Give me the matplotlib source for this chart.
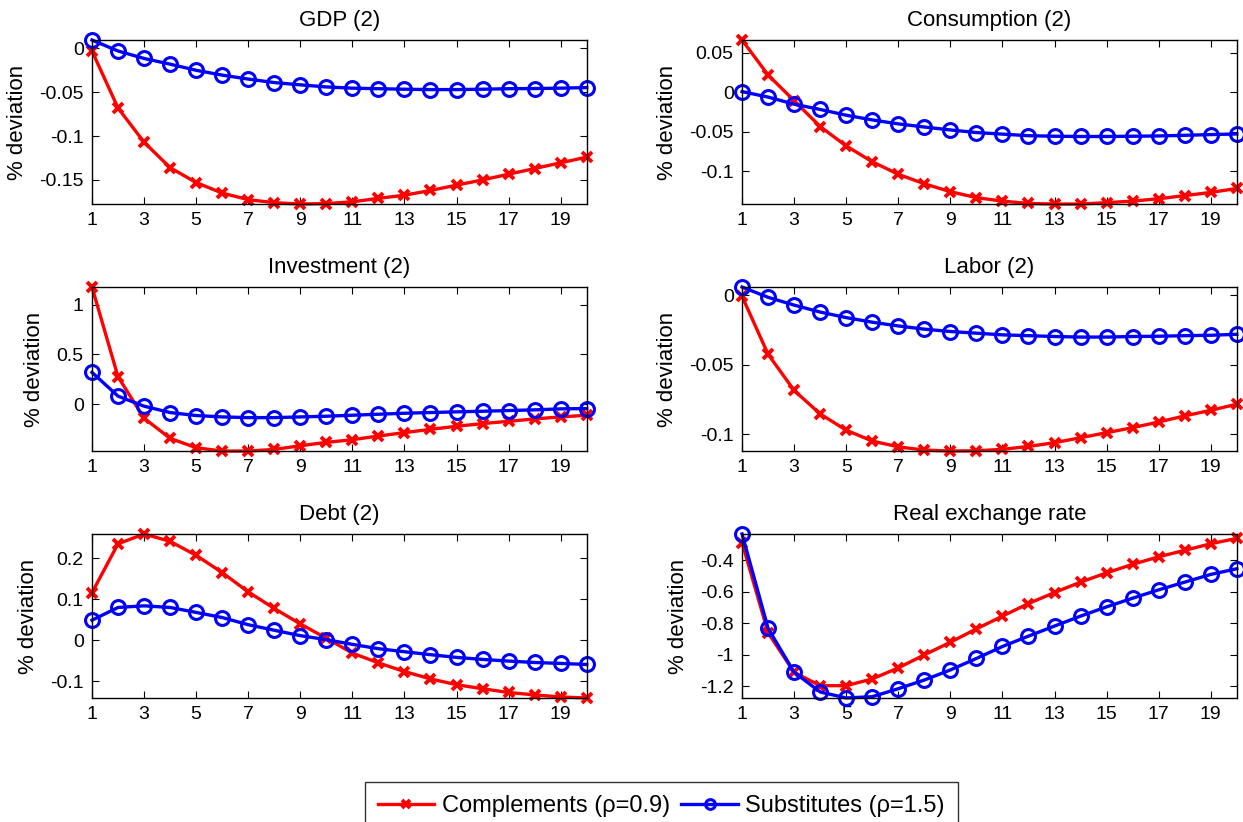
import matplotlib
matplotlib.use('Agg')
import matplotlib.pyplot as plt
from matplotlib.ticker import MultipleLocator, FuncFormatter

plt.rcParams['font.family'] = ['Liberation Sans', 'DejaVu Sans']

periods = list(range(1, 21))

# impulse responses, complements (rho=0.9) and substitutes (rho=1.5)
gdp_comp = [-0.003, -0.068, -0.107, -0.136, -0.153, -0.165, -0.1725, -0.176, -0.1775, -0.177,
            -0.175, -0.171, -0.1675, -0.162, -0.156, -0.150, -0.1435, -0.137, -0.1305, -0.124]
gdp_subs = [0.0095, -0.003, -0.0115, -0.018, -0.025, -0.0305, -0.035, -0.039, -0.0416, -0.044,
            -0.0454, -0.046, -0.0466, -0.047, -0.047, -0.0466, -0.046, -0.0458, -0.0454, -0.0447]

cons_comp = [0.0664, 0.022, -0.0106, -0.0434, -0.068, -0.088, -0.104, -0.116, -0.126, -0.1336,
             -0.138, -0.141, -0.1417, -0.1417, -0.140, -0.138, -0.135, -0.131, -0.127, -0.122]
cons_subs = [0.001, -0.006, -0.015, -0.0217, -0.029, -0.035, -0.040, -0.044, -0.0477, -0.051,
             -0.053, -0.055, -0.0557, -0.056, -0.056, -0.0557, -0.0553, -0.0545, -0.0536, -0.0528]

inv_comp = [1.178, 0.276, -0.141, -0.343, -0.438, -0.471, -0.471, -0.455, -0.418, -0.384,
            -0.357, -0.320, -0.286, -0.253, -0.222, -0.195, -0.172, -0.148, -0.128, -0.111]
inv_subs = [0.32, 0.081, -0.02, -0.084, -0.114, -0.128, -0.135, -0.135, -0.128, -0.121,
            -0.111, -0.101, -0.091, -0.084, -0.077, -0.071, -0.064, -0.057, -0.047, -0.044]

lab_comp = [-0.0007, -0.0424, -0.0684, -0.0853, -0.097, -0.1048, -0.109, -0.1113, -0.112, -0.1118,
            -0.1108, -0.1087, -0.106, -0.1024, -0.0988, -0.0952, -0.0911, -0.0867, -0.0827, -0.0783]
lab_subs = [0.006, -0.0014, -0.007, -0.012, -0.016, -0.0193, -0.022, -0.0243, -0.026, -0.0272,
            -0.0284, -0.029, -0.0296, -0.030, -0.030, -0.0296, -0.0294, -0.029, -0.0287, -0.028]

debt_comp = [0.116, 0.235, 0.259, 0.241, 0.207, 0.165, 0.118, 0.0776, 0.040, 0.005,
             -0.031, -0.055, -0.076, -0.094, -0.108, -0.118, -0.127, -0.133, -0.138, -0.1404]
debt_subs = [0.049, 0.080, 0.084, 0.080, 0.068, 0.0555, 0.038, 0.0245, 0.0114, 0.0016,
             -0.0098, -0.0204, -0.0278, -0.035, -0.0416, -0.0465, -0.0506, -0.054, -0.0563, -0.0588]

rer_comp = [-0.287, -0.860, -1.111, -1.196, -1.196, -1.153, -1.083, -1.0, -0.920, -0.835,
            -0.754, -0.674, -0.604, -0.538, -0.479, -0.425, -0.377, -0.336, -0.294, -0.260]
rer_subs = [-0.232, -0.832, -1.111, -1.236, -1.274, -1.266, -1.215, -1.160, -1.096, -1.023,
            -0.947, -0.881, -0.817, -0.754, -0.695, -0.640, -0.587, -0.538, -0.489, -0.453]

titles = ['GDP (2)', 'Consumption (2)', 'Investment (2)', 'Labor (2)', 'Debt (2)', 'Real exchange rate']
comp_series = [gdp_comp, cons_comp, inv_comp, lab_comp, debt_comp, rer_comp]
subs_series = [gdp_subs, cons_subs, inv_subs, lab_subs, debt_subs, rer_subs]
ytick_steps = [0.05, 0.05, 0.5, 0.05, 0.1, 0.2]

fig = plt.figure(figsize=(12.43, 8.22), dpi=100)

lefts = [0.074, 0.597]
bottoms = [0.7518, 0.4513, 0.1509]
w, h = 0.398, 0.1995

fmt = FuncFormatter(lambda v, pos: '0' if abs(v) < 1e-9 else ('%g' % round(v, 4)))

for i in range(6):
    ax = fig.add_axes([lefts[i % 2], bottoms[i // 2], w, h])
    l1, = ax.plot(periods, comp_series[i], color='red', lw=2.4, marker='x',
                  ms=7.5, mew=2.8, clip_on=False, label='Complements (\u03c1=0.9)')
    l2, = ax.plot(periods, subs_series[i], color='blue', lw=2.4, marker='o',
                  ms=10, mew=2.2, mfc='none', clip_on=False, label='Substitutes (\u03c1=1.5)')
    ax.margins(x=0, y=0)
    ax.set_xlim(1, 20)
    ax.set_xticks(range(1, 20, 2))
    ax.yaxis.set_major_locator(MultipleLocator(ytick_steps[i]))
    ax.yaxis.set_major_formatter(fmt)
    ax.tick_params(direction='in', top=True, right=True, length=5, width=0.8,
                   labelsize=14, pad=6)
    ax.set_title(titles[i], fontsize=16, pad=10)
    ax.set_ylabel('% deviation', fontsize=16, labelpad=8)
    for s in ax.spines.values():
        s.set_linewidth(1.0)

leg = fig.legend(handles=[l1, l2], loc='upper center', bbox_to_anchor=(0.532, 0.0487),
                 ncol=2, fontsize=17, frameon=True, fancybox=False, edgecolor='black',
                 borderpad=0.55, borderaxespad=0, handlelength=2.4, handletextpad=0.3,
                 columnspacing=0.5, markerscale=0.7)
leg.get_frame().set_linewidth(1.0)

fig.savefig('out.png', dpi=100)
